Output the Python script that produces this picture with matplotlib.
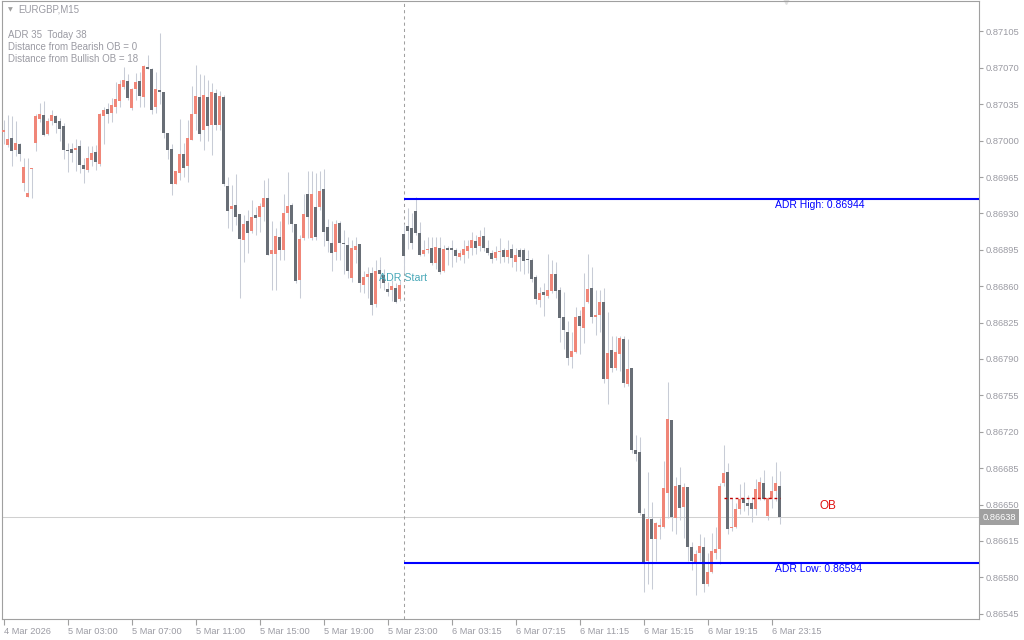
import matplotlib
matplotlib.use("Agg")
import matplotlib.pyplot as plt
import numpy as np

plt.rcParams['font.family'] = ['Liberation Sans', 'DejaVu Sans']

# EURGBP M15 candles, prices in 1/100000
opens = [87008, 86996, 87003, 86991, 86997, 86959, 86946, 86973, 86998, 87021,
         87025, 87006, 87019, 87024, 87019, 87014, 86991, 86992, 86991, 86995,
         86977, 86972, 86981, 86989, 86978, 87024, 87030, 87027, 87032, 87038,
         87052, 87057, 87031, 87050, 87057, 87042, 87071, 87069, 87032, 87049,
         87047, 87007, 86992, 86958, 86969, 86987, 86976, 87001, 87026, 87042,
         87010, 87042, 87015, 87046, 87015, 87042, 86956, 86934, 86938, 86929,
         86904, 86923, 86913, 86928, 86927, 86936, 86945, 86891, 86891, 86907,
         86895, 86930, 86938, 86920, 86866, 86906, 86949, 86906, 86936, 86936,
         86953, 86917, 86902, 86893, 86921, 86902, 86900, 86868, 86895, 86901,
         86861, 86869, 86873, 86843, 86876, 86871, 86857, 86856, 86858, 86848,
         86910, 86918, 86916, 86932, 86911, 86891, 86895, 86897, 86882, 86897,
         86875, 86897, 86897, 86895, 86888, 86890, 86894, 86897, 86903, 86899,
         86908, 86897, 86892, 86887, 86893, 86895, 86888, 86896, 86883, 86895,
         86895, 86886, 86885, 86869, 86847, 86854, 86851, 86855, 86872, 86856,
         86830, 86816, 86792, 86797, 86831, 86820, 86845, 86858, 86830, 86832,
         86845, 86771, 86799, 86781, 86795, 86809, 86766, 86781, 86702, 86701,
         86641, 86596, 86636, 86617, 86628, 86628, 86661, 86731, 86637, 86669,
         86648, 86667, 86609, 86595, 86603, 86609, 86574, 86585, 86603, 86607,
         86671, 86681, 86627, 86628, 86646, 86656, 86651, 86651, 86646, 86655,
         86671, 86639, 86655, 86663, 86668]
highs = [87020, 87025, 87024, 87019, 86998, 86983, 86983, 86974, 87026, 87036,
         87038, 87022, 87029, 87025, 87022, 87017, 86998, 86998, 87002, 87001,
         86983, 86995, 86995, 86996, 87027, 87032, 87036, 87041, 87056, 87058,
         87071, 87064, 87051, 87065, 87066, 87073, 87082, 87070, 87066, 87104,
         87047, 87007, 86997, 86971, 87021, 86998, 87020, 87053, 87073, 87064,
         87063, 87058, 87055, 87050, 87048, 87044, 86965, 86957, 86968, 86929,
         86928, 86933, 86943, 86936, 86940, 86962, 86964, 86923, 86916, 86923,
         86949, 86970, 86940, 86920, 86909, 86949, 86971, 86971, 86969, 86971,
         86973, 86925, 86923, 86924, 86923, 86914, 86907, 86904, 86907, 86901,
         86875, 86878, 86878, 86885, 86888, 86877, 86864, 86866, 86863, 86866,
         86920, 86935, 86930, 86946, 86922, 86904, 86907, 86907, 86907, 86907,
         86900, 86899, 86904, 86897, 86895, 86904, 86904, 86912, 86909, 86914,
         86917, 86904, 86895, 86899, 86906, 86897, 86904, 86901, 86897, 86897,
         86897, 86895, 86887, 86871, 86859, 86863, 86891, 86885, 86883, 86859,
         86854, 86827, 86816, 86840, 86837, 86873, 86891, 86878, 86856, 86856,
         86858, 86835, 86812, 86812, 86812, 86812, 86809, 86781, 86717, 86715,
         86647, 86681, 86652, 86633, 86637, 86692, 86768, 86731, 86676, 86686,
         86671, 86667, 86614, 86606, 86622, 86619, 86603, 86623, 86628, 86671,
         86707, 86690, 86656, 86651, 86670, 86672, 86659, 86657, 86675, 86676,
         86683, 86657, 86677, 86691, 86682]
lows = [86997, 86994, 86976, 86985, 86980, 86952, 86946, 86945, 86990, 87018,
        87004, 87005, 87015, 87007, 87000, 86982, 86970, 86979, 86971, 86969,
        86959, 86970, 86976, 86972, 86976, 86997, 87017, 87018, 87027, 87032,
        87050, 87039, 87029, 87039, 87032, 87032, 87069, 87026, 87027, 87035,
        87003, 86982, 86948, 86958, 86962, 86965, 86960, 87001, 87010, 87000,
        86991, 87000, 86986, 87010, 87010, 86956, 86916, 86913, 86919, 86849,
        86883, 86892, 86911, 86909, 86912, 86923, 86890, 86856, 86856, 86885,
        86885, 86920, 86912, 86863, 86849, 86904, 86906, 86904, 86904, 86933,
        86899, 86893, 86875, 86885, 86885, 86872, 86868, 86864, 86882, 86854,
        86853, 86849, 86832, 86840, 86858, 86856, 86851, 86846, 86844, 86846,
        86873, 86896, 86896, 86909, 86889, 86889, 86892, 86880, 86877, 86872,
        86874, 86880, 86878, 86883, 86885, 86882, 86887, 86890, 86891, 86894,
        86894, 86890, 86882, 86885, 86882, 86883, 86882, 86878, 86875, 86875,
        86872, 86873, 86864, 86843, 86840, 86831, 86849, 86853, 86849, 86806,
        86800, 86784, 86781, 86796, 86795, 86805, 86844, 86825, 86813, 86816,
        86767, 86747, 86777, 86779, 86778, 86763, 86764, 86700, 86692, 86640,
        86566, 86574, 86569, 86596, 86617, 86627, 86637, 86625, 86622, 86635,
        86618, 86596, 86587, 86563, 86596, 86566, 86572, 86584, 86598, 86593,
        86668, 86622, 86625, 86627, 86641, 86644, 86640, 86633, 86640, 86654,
        86654, 86635, 86647, 86653, 86631]
closes = [87010, 87002, 86990, 86998, 86987, 86975, 86950, 86974, 87024, 87026,
          87005, 87019, 87025, 87017, 87011, 86991, 86990, 86988, 86993, 86977,
          86973, 86983, 86988, 86979, 87026, 87029, 87026, 87034, 87040, 87054,
          87058, 87041, 87050, 87056, 87043, 87072, 87069, 87029, 87050, 87047,
          87007, 86991, 86958, 86971, 86987, 86974, 87003, 87026, 87043, 87006,
          87044, 87014, 87047, 87015, 87043, 86958, 86932, 86937, 86927, 86905,
          86920, 86911, 86927, 86926, 86937, 86945, 86890, 86895, 86908, 86895,
          86930, 86937, 86920, 86865, 86905, 86929, 86927, 86949, 86907, 86952,
          86912, 86903, 86892, 86920, 86902, 86901, 86875, 86897, 86899, 86863,
          86869, 86872, 86842, 86875, 86872, 86863, 86854, 86860, 86845, 86861,
          86889, 86913, 86902, 86911, 86890, 86895, 86896, 86882, 86898, 86874,
          86896, 86895, 86895, 86889, 86892, 86896, 86899, 86904, 86897, 86907,
          86897, 86892, 86886, 86893, 86894, 86888, 86895, 86887, 86890, 86888,
          86884, 86885, 86867, 86848, 86853, 86852, 86856, 86872, 86855, 86829,
          86818, 86791, 86798, 86830, 86822, 86840, 86857, 86830, 86832, 86845,
          86771, 86796, 86781, 86797, 86810, 86767, 86780, 86702, 86699, 86642,
          86593, 86636, 86617, 86632, 86630, 86666, 86732, 86638, 86668, 86647,
          86667, 86609, 86596, 86602, 86610, 86574, 86585, 86605, 86607, 86668,
          86680, 86626, 86628, 86646, 86655, 86651, 86649, 86646, 86665, 86672,
          86655, 86656, 86663, 86671, 86638]

time_ticks = [0, 16, 32, 48, 64, 80, 96, 112, 128, 144, 160, 176, 192]
time_labels = ["4 Mar 2026", "5 Mar 03:00", "5 Mar 07:00", "5 Mar 11:00",
               "5 Mar 15:00", "5 Mar 19:00", "5 Mar 23:00", "6 Mar 03:15",
               "6 Mar 07:15", "6 Mar 11:15", "6 Mar 15:15", "6 Mar 19:15",
               "6 Mar 23:15"]

adr_start = 100
adr_high = 0.86944
adr_low = 0.86594
bid = 0.86638
ob_level = 0.86656
ob_from = 180
info_lines = ["ADR 35  Today 38", "Distance from Bearish OB = 0",
              "Distance from Bullish OB = 18"]

UP = '#f08678'
DOWN = '#686e76'
WICK = '#c8ccd6'
AXC = '#a0a0a0'
TXT = '#9b9ba3'

o = np.array(opens) / 1e5
h = np.array(highs) / 1e5
l = np.array(lows) / 1e5
c = np.array(closes) / 1e5
x = np.arange(len(o))

fig = plt.figure(figsize=(10.24, 6.4), dpi=100)
ax = fig.add_axes([2 / 1024, 21 / 640, 977 / 1024, 618 / 640])
ax.set_xlim(-0.375, 243.875)
ax.set_ylim(0.865399, 0.871343)

# current bid line and session start
ax.axhline(bid, color='#d0d0d0', lw=0.75, zorder=1)
ax.axvline(adr_start, color=AXC, lw=0.75, ls=(0, (3, 3)), zorder=1)

# candles
ax.vlines(x, np.minimum(l, np.minimum(o, c)), np.maximum(h, np.maximum(o, c)),
          colors=WICK, lw=0.75, zorder=2)
bull = c >= o
body_h = np.maximum(np.abs(c - o), 0.00001)
ax.bar(x, body_h, bottom=np.minimum(o, c), width=0.75,
       color=np.where(bull, UP, DOWN), linewidth=0, zorder=3)

# ADR levels
ax.hlines([adr_high, adr_low], adr_start, 243.875, colors='#0000ff', lw=1.5, zorder=4)
ax.annotate(f"ADR High: {adr_high:.5f}", xy=(192.9, adr_high), xytext=(0, -1),
            textcoords='offset points', va='top', ha='left', color='#0000ff', fontsize=7.5)
ax.annotate(f"ADR Low: {adr_low:.5f}", xy=(192.9, adr_low), xytext=(0, -1),
            textcoords='offset points', va='top', ha='left', color='#0000ff', fontsize=7.5)
ax.text(93.9, 0.86868, "ADR Start", color='#48a8b8', fontsize=7.7, va='center', ha='left', zorder=5)

# order block
ax.hlines(ob_level, ob_from, len(o) - 1, colors='#c00000', lw=1, ls=(0, (2, 2)), zorder=4)
ax.text(203.9, 0.86649, "OB", color='#e01010', fontsize=8.5, va='center', ha='left')

# axes styling
for s in ax.spines.values():
    s.set_color(AXC)
    s.set_linewidth(0.8)
ax.yaxis.tick_right()
ax.set_yticks(np.round(np.arange(0.86545, 0.87106, 0.00035), 5))
ax.yaxis.set_major_formatter(matplotlib.ticker.FormatStrFormatter('%.5f'))
ax.tick_params(axis='y', length=3, color=AXC, labelcolor=TXT, labelsize=6.7, pad=2)
ax.set_xticks(time_ticks)
ax.set_xticklabels(time_labels)
ax.tick_params(axis='x', length=4, color=AXC, labelcolor=TXT, labelsize=6.7, pad=2)
for lab in ax.get_xticklabels():
    lab.set_ha('left')

ax.annotate(f"{bid:.5f}", xy=(1.0, bid), xycoords=('axes fraction', 'data'),
            xytext=(2.5, 0), textcoords='offset points', va='center', ha='left',
            color='white', fontsize=6.7,
            bbox=dict(boxstyle='square,pad=0.35', fc='#a0a0a0', ec='none'))

# chart shift marker
ax.plot([195.5], [1.0], marker='v', color='#e0e0e0', ms=5,
        transform=ax.get_xaxis_transform(), clip_on=False)

# header and info text
fig.text(8 / 1024, 1 - 10 / 640, "\u25bc", color='#a0a0a0', fontsize=4.5,
         va='center', ha='left', family='DejaVu Sans')
fig.text(18 / 1024, 1 - 10 / 640, "EURGBP,M15", color=TXT, fontsize=7, va='center', ha='left')
for k, line in enumerate(info_lines):
    fig.text(8 / 1024, 1 - (35 + 12 * k) / 640, line, color=TXT, fontsize=7,
             va='center', ha='left')

fig.savefig("out.png", dpi=100, facecolor='white')
